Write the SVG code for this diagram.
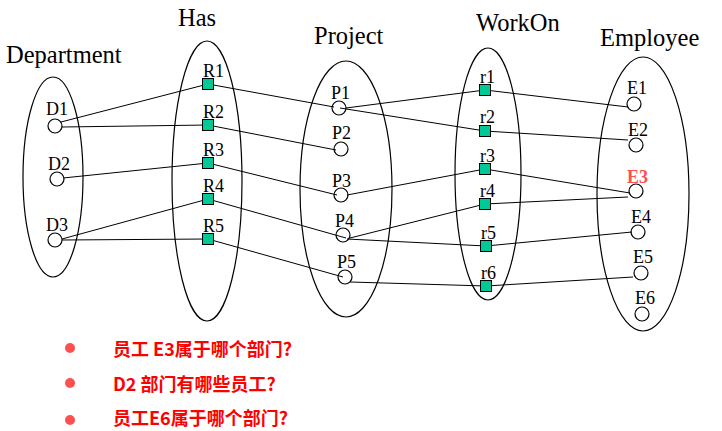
<svg xmlns="http://www.w3.org/2000/svg" width="722" height="431" viewBox="0 0 722 431">
<style>
.set{fill:none;stroke:#000;stroke-width:1.2}
.title{font-family:"Liberation Serif",serif;font-size:24.5px;fill:#000}
.lbl{font-family:"Liberation Serif",serif;font-size:18px;fill:#000}
.c{fill:none;stroke:#000;stroke-width:1.2}
.sq{fill:#00C896;stroke:#000;stroke-width:1}
.ln{stroke:#000;stroke-width:1;fill:none}
.q{font-family:"Noto Sans CJK SC","Noto Sans",sans-serif;font-size:18px;font-weight:bold;fill:#FF0000}
.bul{fill:#FF5050}
</style>
<rect width="722" height="431" fill="#fff"/>
<g id="sets">
<ellipse class="set" cx="53" cy="177" rx="30" ry="100"/>
<ellipse class="set" cx="207" cy="181" rx="35" ry="140"/>
<ellipse class="set" cx="346" cy="189" rx="46" ry="128"/>
<ellipse class="set" cx="488" cy="174" rx="33" ry="126"/>
<ellipse class="set" cx="643" cy="194" rx="46" ry="137"/>
</g>
<g id="titles">
<text class="title" x="6" y="63">Department</text>
<text class="title" x="178" y="26">Has</text>
<text class="title" x="314" y="44">Project</text>
<text class="title" x="476" y="31">WorkOn</text>
<text class="title" x="600" y="46">Employee</text>
</g>
<g id="connectors">
<line class="ln" x1="61" y1="122" x2="208" y2="84"/>
<line class="ln" x1="62" y1="127" x2="208" y2="125"/>
<line class="ln" x1="63" y1="178" x2="208" y2="163"/>
<line class="ln" x1="62" y1="239" x2="208" y2="199"/>
<line class="ln" x1="62" y1="240" x2="208" y2="239"/>
<line class="ln" x1="208" y1="84" x2="334" y2="107"/>
<line class="ln" x1="208" y1="125" x2="336" y2="150"/>
<line class="ln" x1="208" y1="163" x2="337" y2="195"/>
<line class="ln" x1="208" y1="199" x2="346" y2="238"/>
<line class="ln" x1="208" y1="239" x2="343" y2="277"/>
<line class="ln" x1="346" y1="108" x2="485" y2="90"/>
<line class="ln" x1="340" y1="108" x2="485" y2="131"/>
<line class="ln" x1="347" y1="195" x2="485" y2="169"/>
<line class="ln" x1="350" y1="238" x2="485" y2="204"/>
<line class="ln" x1="347" y1="239" x2="486" y2="246"/>
<line class="ln" x1="350" y1="282" x2="486" y2="286"/>
<line class="ln" x1="485" y1="90" x2="628" y2="107"/>
<line class="ln" x1="485" y1="131" x2="628" y2="140"/>
<line class="ln" x1="485" y1="169" x2="630" y2="193"/>
<line class="ln" x1="485" y1="204" x2="628" y2="197"/>
<line class="ln" x1="486" y1="246" x2="632" y2="232"/>
<line class="ln" x1="486" y1="286" x2="633" y2="277"/>
</g>
<g id="D1"><circle class="c" cx="55" cy="126" r="7"/><text class="lbl" x="46" y="115">D1</text></g>
<g id="D2"><circle class="c" cx="57" cy="179" r="7"/><text class="lbl" x="48" y="170">D2</text></g>
<g id="D3"><circle class="c" cx="55" cy="240" r="7"/><text class="lbl" x="46" y="231">D3</text></g>
<g id="R1"><rect class="sq" x="202.5" y="78.5" width="11" height="11"/><text class="lbl" x="203" y="77">R1</text></g>
<g id="R2"><rect class="sq" x="202.5" y="119.5" width="11" height="11"/><text class="lbl" x="203" y="118">R2</text></g>
<g id="R3"><rect class="sq" x="202.5" y="157.5" width="11" height="11"/><text class="lbl" x="203" y="156">R3</text></g>
<g id="R4"><rect class="sq" x="202.5" y="193.5" width="11" height="11"/><text class="lbl" x="203" y="192">R4</text></g>
<g id="R5"><rect class="sq" x="202.5" y="233.5" width="11" height="11"/><text class="lbl" x="203" y="232">R5</text></g>
<g id="P1"><circle class="c" cx="339" cy="108" r="7"/><text class="lbl" x="331" y="99">P1</text></g>
<g id="P2"><circle class="c" cx="341" cy="149" r="7"/><text class="lbl" x="332" y="139">P2</text></g>
<g id="P3"><circle class="c" cx="341" cy="195" r="7"/><text class="lbl" x="332" y="187">P3</text></g>
<g id="P4"><circle class="c" cx="343" cy="235" r="7"/><text class="lbl" x="335" y="227">P4</text></g>
<g id="P5"><circle class="c" cx="345" cy="277" r="7"/><text class="lbl" x="337" y="268">P5</text></g>
<g id="r1"><rect class="sq" x="479.5" y="84.5" width="11" height="11"/><text class="lbl" x="480" y="83">r1</text></g>
<g id="r2"><rect class="sq" x="479.5" y="125.5" width="11" height="11"/><text class="lbl" x="480" y="123">r2</text></g>
<g id="r3"><rect class="sq" x="479.5" y="163.5" width="11" height="11"/><text class="lbl" x="480" y="162">r3</text></g>
<g id="r4"><rect class="sq" x="479.5" y="198.5" width="11" height="11"/><text class="lbl" x="480" y="197">r4</text></g>
<g id="r5"><rect class="sq" x="480.5" y="240.5" width="11" height="11"/><text class="lbl" x="481" y="239">r5</text></g>
<g id="r6"><rect class="sq" x="480.5" y="280.5" width="11" height="11"/><text class="lbl" x="481" y="279">r6</text></g>
<g id="E1"><circle class="c" cx="634" cy="104" r="7"/><text class="lbl" x="627" y="94">E1</text></g>
<g id="E2"><circle class="c" cx="636" cy="145" r="7"/><text class="lbl" x="628" y="136">E2</text></g>
<g id="E3"><circle class="c" cx="636" cy="191" r="7"/><text class="lbl" x="627" y="183" style="fill:#FF5050;font-weight:bold">E3</text></g>
<g id="E4"><circle class="c" cx="638" cy="232" r="7"/><text class="lbl" x="631" y="223">E4</text></g>
<g id="E5"><circle class="c" cx="641" cy="273" r="7"/><text class="lbl" x="633" y="263">E5</text></g>
<g id="E6"><circle class="c" cx="642" cy="314" r="7"/><text class="lbl" x="635" y="304">E6</text></g>
<g id="questions">
<circle class="bul" cx="70" cy="348" r="5"/>
<circle class="bul" cx="70" cy="383" r="5"/>
<circle class="bul" cx="70" cy="420" r="5"/>
<text class="q" x="113" y="356">员工 E3属于哪个部门?</text>
<text class="q" x="113" y="391">D2 部门有哪些员工?</text>
<text class="q" x="113" y="425">员工E6属于哪个部门?</text>
</g>
</svg>
